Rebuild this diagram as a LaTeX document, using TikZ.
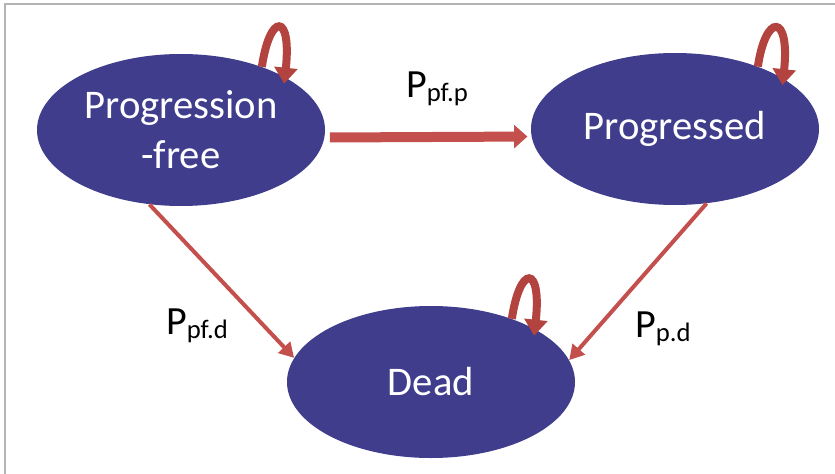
\documentclass[tikz,border=0pt]{standalone}
\usepackage{fontspec}
\setmainfont{Carlito}
\usetikzlibrary{arrows.meta,shapes.geometric}
\definecolor{stateblue}{HTML}{3F3D8C}
\definecolor{arrowred}{HTML}{C4504D}
\definecolor{loopred}{HTML}{B2433F}
\definecolor{framegray}{HTML}{B4B4B4}
\tikzset{
	state/.style={ellipse, fill=stateblue, text=white, minimum width=216pt, minimum height=114pt, inner sep=0pt, align=center, font=\fontsize{30.5}{37.5}\selectfont},
	trans/.style={draw=arrowred, line width=3pt, -{Triangle[length=11pt,width=12pt]}},
	mainTrans/.style={draw=arrowred, line width=7.5pt, -{Triangle[length=10pt,width=17pt]}},
	selfLoop/.style={draw=loopred, line width=6pt, shorten >=-5pt, -{Triangle[length=12pt,width=17pt]}},
	prob/.style={font=\fontsize{30}{30}\selectfont, inner sep=0pt, anchor=base west}
}
\newcommand\transprob[1]{P\raisebox{-3pt}{\fontsize{20}{20}\selectfont #1}}

\begin{document}
\begin{tikzpicture}[x=0.75pt, y=-0.75pt]
			%%%%% START %%%%%
			\useasboundingbox (0,0) rectangle (835,474);
			\draw[framegray, line width=1.5pt] (5,474) -- (5,4) -- (835,4);
			
			\node[state] (pf) at (181,130) {Progression\\-free};
			\node[state] (pg) at (675,129) {Progressed};
			\node[state] (dd) at (431,382) {Dead};
			
			\draw[mainTrans, shorten <=4pt, shorten >=3pt] (pf.-3) -- (pg.-177);
			\draw[trans] (pf.247) -- (dd.170);
			\draw[trans] (pg.293) -- (dd.9);
			
			\draw[selfLoop] (pf.38) .. controls +(8,-54) and +(7,-65) .. (pf.27);
			\draw[selfLoop] (pg.37) .. controls +(8,-54) and +(7,-65) .. (pg.25);
			\draw[selfLoop] (dd.38) .. controls +(8,-54) and +(7,-65) .. (dd.27);
			
			\node[prob] (ppfp) at (406,98) {\transprob{pf.p}};
			\node[prob] (ppfd) at (166,334) {\transprob{pf.d}};
			\node[prob] (ppd) at (635,337) {\transprob{p.d}};
			%%%%% END %%%%%
\end{tikzpicture}
\end{document}
